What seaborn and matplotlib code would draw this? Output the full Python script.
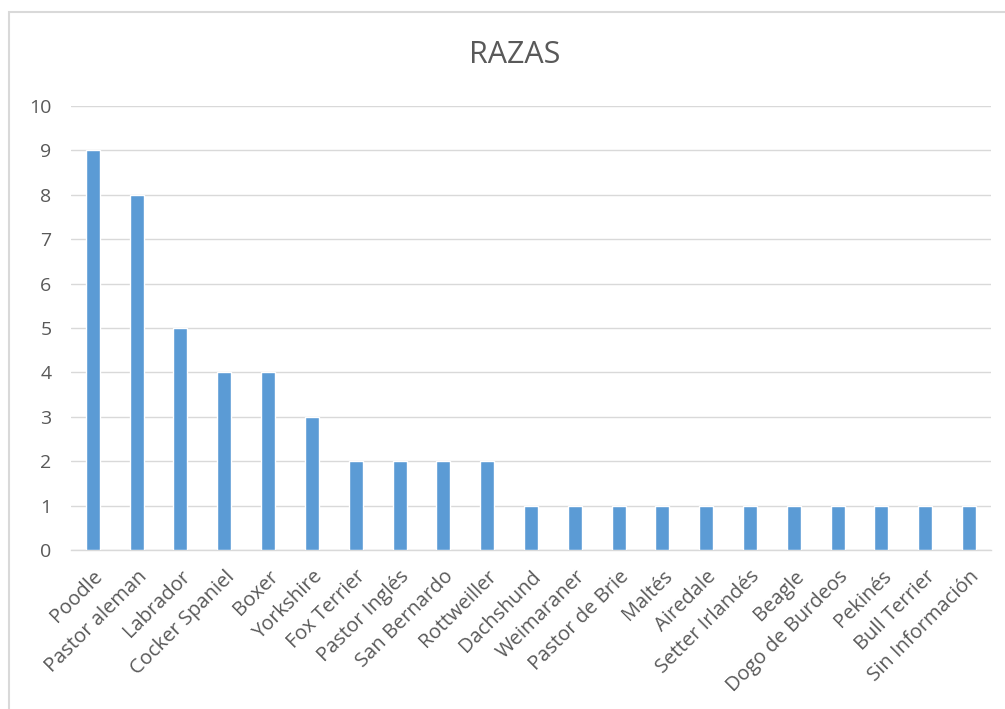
import matplotlib
matplotlib.use("Agg")
import matplotlib.pyplot as plt
import seaborn as sns
import pandas as pd
from matplotlib.patches import Rectangle

razas = ["Poodle", "Pastor aleman", "Labrador", "Cocker Spaniel", "Boxer", "Yorkshire",
         "Fox Terrier", "Pastor Inglés", "San Bernardo", "Rottweiller", "Dachshund",
         "Weimaraner", "Pastor de Brie", "Maltés", "Airedale", "Setter Irlandés",
         "Beagle", "Dogo de Burdeos", "Pekinés", "Bull Terrier", "Sin Información"]
cantidad = [9, 8, 5, 4, 4, 3, 2, 2, 2, 2, 1, 1, 1, 1, 1, 1, 1, 1, 1, 1, 1]
yticks = [0, 1, 2, 3, 4, 5, 6, 7, 8, 9, 10]
titulo = "RAZAS"

sns.set_theme(style="white")
plt.rcParams['font.family'] = ['Open Sans', 'DejaVu Sans']

df = pd.DataFrame({"raza": razas, "n": cantidad})

fig = plt.figure(figsize=(10.05, 7.09), dpi=100)
ax = fig.add_axes([0.0706, 0.2243, 0.9154, 0.6262])

# chart border
fig.patches.append(Rectangle((9 / 1005, -0.1), 1.2, 1 - 12 / 709 + 0.1,
                             transform=fig.transFigure, fill=False,
                             edgecolor="#D9D9D9", linewidth=1.5))

sns.barplot(data=df, x="raza", y="n", color="#5B9BD5", width=0.32,
            saturation=1, ax=ax, zorder=3)

ax.set_ylim(0, 10)
ax.set_xlim(-0.5, len(razas) - 0.5)
ax.set_yticks(yticks)
ax.set_yticklabels([str(v) for v in yticks])
ax.yaxis.grid(True, color="#D9D9D9", linewidth=1, zorder=0)
ax.set_axisbelow(True)
for s in ["top", "right", "left"]:
    ax.spines[s].set_visible(False)
ax.spines["bottom"].set_color("#D9D9D9")
ax.spines["bottom"].set_linewidth(1)
ax.set_xlabel("")
ax.set_ylabel("")
ax.tick_params(axis="y", length=0, pad=14, labelsize=14, labelcolor="#595959")
ax.tick_params(axis="x", length=0, pad=12, labelsize=14.5, labelcolor="#595959")
plt.setp(ax.get_xticklabels(), rotation=45, ha="right", rotation_mode="anchor")

fig.text(515 / 1005, 1 - 55 / 709, titulo, ha="center", va="center",
         fontsize=22, color="#595959")

fig.savefig("out.png", dpi=100, facecolor="white")
